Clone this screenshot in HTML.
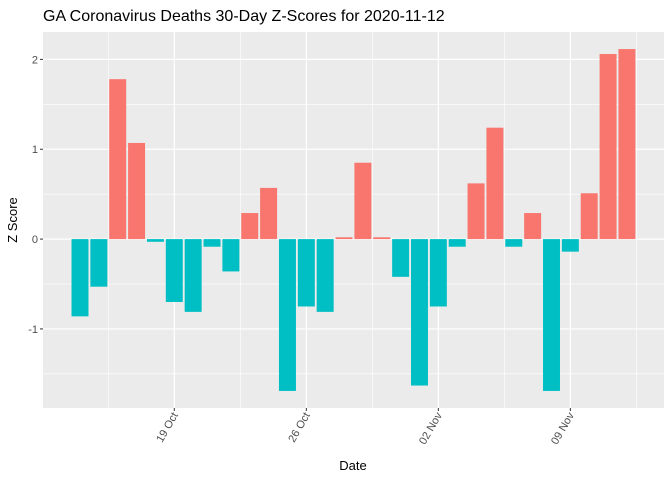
<!DOCTYPE html>
<html><head><meta charset="utf-8"><style>
body{margin:0;background:#fff;}
svg{font-family:"Liberation Sans",Arial,sans-serif;display:block}
</style></head><body>
<svg id="c" width="672" height="480">
<text x="43" y="21" font-size="16" fill="#000">GA Coronavirus Deaths 30-Day Z-Scores for 2020-11-12</text>
<rect x="43" y="32" width="621" height="376" fill="#ebebeb"/>
<g id="grid"></g><g id="bars"></g><g id="axes"></g>
<text x="353" y="470" font-size="13" text-anchor="middle" fill="#000">Date</text>
<text transform="translate(17,220) rotate(-90)" font-size="13" text-anchor="middle" fill="#000">Z Score</text>
</svg>
<script>
const dates=["Oct14","Oct15","Oct16","Oct17","Oct18","Oct19","Oct20","Oct21","Oct22","Oct23","Oct24","Oct25","Oct26","Oct27","Oct28","Oct29","Oct30","Oct31","Nov01","Nov02","Nov03","Nov04","Nov05","Nov06","Nov07","Nov08","Nov09","Nov10","Nov11","Nov12"];
const zscores=[-0.86,-0.53,1.78,1.07,-0.03,-0.70,-0.81,-0.085,-0.36,0.29,0.57,-1.69,-0.75,-0.81,0.02,0.85,0.02,-0.42,-1.63,-0.75,-0.085,0.62,1.24,-0.085,0.29,-1.69,-0.14,0.51,2.06,2.115];
const yTicks=[-1,0,1,2];
const yMinor=[-1.5,-0.5,0.5,1.5];
const xTickIdx=[5,12,19,26];
const xTickLabels=["19 Oct","26 Oct","02 Nov","09 Nov"];
const NS="http://www.w3.org/2000/svg";
const L=43,R=664,T=32,B=408;
const x0=174.3-5*18.86, dx=18.86;
function xs(i){return x0+i*dx;}
const yMin=-1.88,yMax=2.305;
function ys(v){return B-(v-yMin)/(yMax-yMin)*(B-T);}
function mk(tag,attrs,parent){const e=document.createElementNS(NS,tag);for(const k in attrs)e.setAttribute(k,attrs[k]);parent.appendChild(e);return e;}
const grid=document.getElementById('grid'),bars=document.getElementById('bars'),axes=document.getElementById('axes');
yMinor.forEach(v=>{const l=mk('line',{x1:L,x2:R,y1:ys(v),y2:ys(v),stroke:'#fff','stroke-width':0.6},grid);

});
yTicks.forEach(v=>{const l=mk('line',{x1:L,x2:R,y1:ys(v),y2:ys(v),stroke:'#fff','stroke-width':1.2},grid);


const t=mk('line',{x1:L-3,x2:L,y1:ys(v),y2:ys(v),stroke:'#333','stroke-width':1},axes);


const tx=mk('text',{x:L-5,y:ys(v)+4,'font-size':11,'text-anchor':'end',fill:'#4d4d4d'},axes);
tx.textContent=v;

});
for(let k=0;k<xTickIdx.length+1;k++){const xm=xs(xTickIdx[0]-3.5+7*k);
if(xm>L&&xm<R){const l=mk('line',{x1:xm,x2:xm,y1:T,y2:B,stroke:'#fff','stroke-width':0.6},grid);

}}
xTickIdx.forEach((i,k)=>{const x=xs(i);
const l=mk('line',{x1:x,x2:x,y1:T,y2:B,stroke:'#fff','stroke-width':1.2},grid);


const t=mk('line',{x1:x,x2:x,y1:B,y2:B+3,stroke:'#333','stroke-width':1},axes);


const tx=mk('text',{transform:`translate(${x+4},${B+7}) rotate(-60)`,'font-size':11,'text-anchor':'end',fill:'#4d4d4d'},axes);
tx.textContent=xTickLabels[k];

});
zscores.forEach((v,i)=>{const cx=xs(i),w=dx*0.9;const y1=ys(Math.max(v,0)),y2=ys(Math.min(v,0));
const r=mk('rect',{x:cx-w/2,y:y1,width:w,height:Math.max(y2-y1,0.5),fill:v>0?'#f8766d':'#00bfc4'},bars);

});
</script>
</body></html>
